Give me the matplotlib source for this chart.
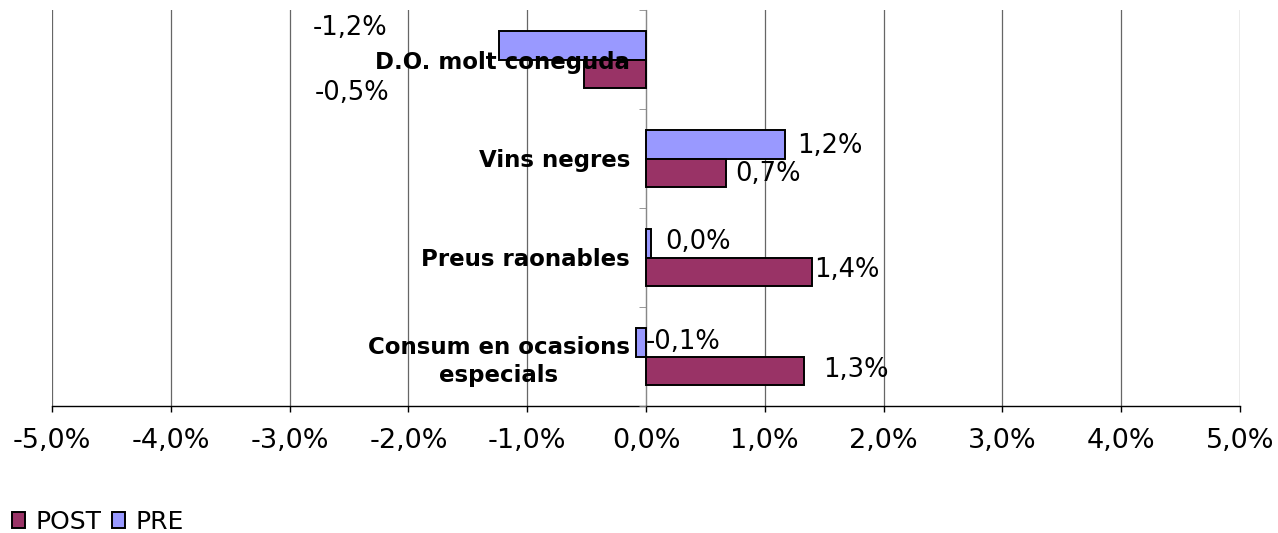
import matplotlib.pyplot as plt
import numpy as np

# Data (percent change)
categories = ["D.O. molt coneguda", "Vins negres", "Preus raonables",
              "Consum en ocasions\nespecials"]
pre_values = [-1.24, 1.17, 0.04, -0.08]
post_values = [-0.52, 0.67, 1.40, 1.33]
x_ticks = [-5, -4, -3, -2, -1, 0, 1, 2, 3, 4, 5]

# label offsets in pixels from bar end (dx, dy), hand-placed like the original
pre_offsets = [(-149, 17), (45, -2), (47, 1), (47, 0)]
post_offsets = [(-232, -19), (42, -1), (34, 2), (52, 1)]

PRE_COLOR = "#9999FF"
POST_COLOR = "#993366"

fig = plt.figure(figsize=(12.78, 5.33), dpi=100)
ax = fig.add_axes([52 / 1278, 1 - 406 / 533, (1240 - 52) / 1278, 396 / 533])

n = len(categories)
y = np.arange(n)[::-1].astype(float)  # first category on top
h = 0.29

pre_bars = ax.barh(y + h / 2, pre_values, height=h, color=PRE_COLOR,
                   edgecolor="black", linewidth=1.4, label="PRE", zorder=3)
post_bars = ax.barh(y - h / 2, post_values, height=h, color=POST_COLOR,
                    edgecolor="black", linewidth=1.4, label="POST", zorder=3)

def fmt(v):
    return f"{v:.1f}%".replace(".", ",")

for vals, ys, offs in [(pre_values, y + h / 2, pre_offsets),
                       (post_values, y - h / 2, post_offsets)]:
    for v, yy, (dx, dy) in zip(vals, ys, offs):
        ax.annotate(fmt(v), xy=(v, yy), xytext=(dx, dy),
                    textcoords="offset pixels", ha="center", va="center",
                    fontsize=18.5, zorder=5)

ax.set_xlim(-5, 5)
ax.set_ylim(-0.5, n - 0.5)
ax.set_xticks(x_ticks)
ax.set_xticklabels([fmt(t) for t in x_ticks], fontsize=19.5)
ax.tick_params(axis="x", length=4.5, width=1, pad=11.5, direction="out")
ax.grid(axis="x", color="#666666", linewidth=0.9, zorder=0)

# y axis sits on zero, category names drawn over the bars
ax.spines["left"].set_position(("data", 0))
ax.spines["left"].set_color("#888888")
ax.spines["top"].set_visible(False)
ax.spines["right"].set_visible(False)
ax.spines["bottom"].set_linewidth(1.0)
ax.yaxis.set_zorder(6)

ax.set_yticks(y)
ax.set_yticklabels(categories, fontsize=16.5, fontweight="bold",
                   multialignment="center", linespacing=1.3)
ax.set_yticks(np.arange(n + 1) - 0.5, minor=True)
ax.tick_params(axis="y", which="major", length=0, pad=11.5)
ax.tick_params(axis="y", which="minor", length=5, color="#888888")

handles = [post_bars, pre_bars]
fig.legend(handles, ["POST", "PRE"], loc="center left",
           bbox_to_anchor=(12 / 1278, 1 - 522 / 533), ncol=2, frameon=False,
           fontsize=18, handlelength=0.52, handleheight=0.64,
           handletextpad=0.4, columnspacing=0.45, borderaxespad=0,
           borderpad=0)

fig.savefig("out.png", dpi=100)
